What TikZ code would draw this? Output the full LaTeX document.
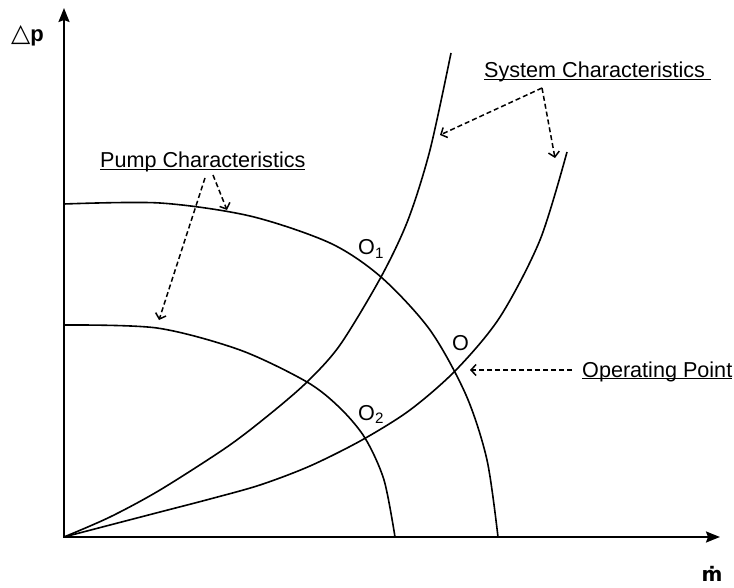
\documentclass[tikz,border=0pt]{standalone}
\usepackage{fontspec}
\setmainfont{Liberation Sans}
\newfontfamily\symfont{DejaVu Sans}
\usetikzlibrary{arrows.meta}
\tikzset{
  lbl/.style={font=\fontsize{21.6}{25}\selectfont,inner sep=0pt},
  curve/.style={line width=1.6pt},
  axis/.style={line width=1.9pt,
    {Stealth[length=14pt,width=11pt,inset=2pt]}-{Stealth[length=14pt,width=11pt,inset=2pt]}},
  pointer/.style={line width=1.5pt,dash pattern=on 5pt off 3pt,
    -{Straight Barb[length=5pt,width=11pt]}},
}

\begin{document}
\begin{tikzpicture}[x=1pt,y=-1pt]
\useasboundingbox (0,0) rectangle (734,588);
% axes
\coordinate (ytip) at (64,8);
\coordinate (xtip) at (720,537);
\draw[axis] (ytip) |- (xtip);
\node[inner sep=0pt,anchor=base west] (dplbl) at (11,42)
  {{\symfont\fontsize{25}{26}\selectfont △}\fontsize{22}{25}\selectfont\textbf{p}};
\node[inner sep=0pt,anchor=base,font=\symfont\bfseries\fontsize{20}{22}\selectfont]
  (mlbl) at (712,581) {ṁ};

% pump characteristics
\draw[curve] plot[smooth] coordinates {(64,204) (160,203) (250,216)
  (330,243) (381,277) (430,330) (466,395) (487,460) (498,537)};
\draw[curve] plot[smooth] coordinates {(64,325) (157,328) (240,350)
  (307,382) (340,408) (365,438) (384,480) (395,537)};

% system characteristics
\draw[curve] plot[smooth] coordinates {(64,537) (110,517) (160,490)
  (227,447) (270,414) (307,382) (340,345) (381,277) (408,220) (430,150)
  (451,53)};
\draw[curve] plot[smooth] coordinates {(64,537) (110,525) (160,512)
  (210,499) (260,485) (310,466) (362,440) (410,410) (456,370) (500,317)
  (540,240) (567,152)};

% labels
\node[lbl,anchor=base west] (syslbl) at (484,78)
  {\underline{\smash{System Characteristics\ }}};
\node[lbl,anchor=base west] (pumplbl) at (100,168)
  {\underline{\smash{Pump Characteristics}}};
\node[lbl,anchor=base west] (oplbl) at (582,377)
  {\underline{\smash{Operating Point}}};
\node[lbl,anchor=base west] (o1lbl) at (358,255) {O\textsubscript{1}};
\node[lbl,anchor=base west] (olbl) at (452,350) {O};
\node[lbl,anchor=base west] (o2lbl) at (358,420) {O\textsubscript{2}};

% pointers
\coordinate (sysfrom) at (542,88);
\coordinate (sysup) at (440,135);
\coordinate (syslow) at (555,158);
\coordinate (pumpfromA) at (205,178);
\coordinate (pumpfromB) at (213,175);
\coordinate (pumpin) at (159,320);
\coordinate (pumpout) at (227,210);
\coordinate (opfrom) at (572,370);
\coordinate (opat) at (470,370);
\draw[pointer] (sysfrom) -- (sysup);
\draw[pointer] (sysfrom) -- (syslow);
\draw[pointer] (pumpfromA) -- (pumpin);
\draw[pointer] (pumpfromB) -- (pumpout);
\draw[pointer] (opfrom) -- (opat);
\end{tikzpicture}
\end{document}
